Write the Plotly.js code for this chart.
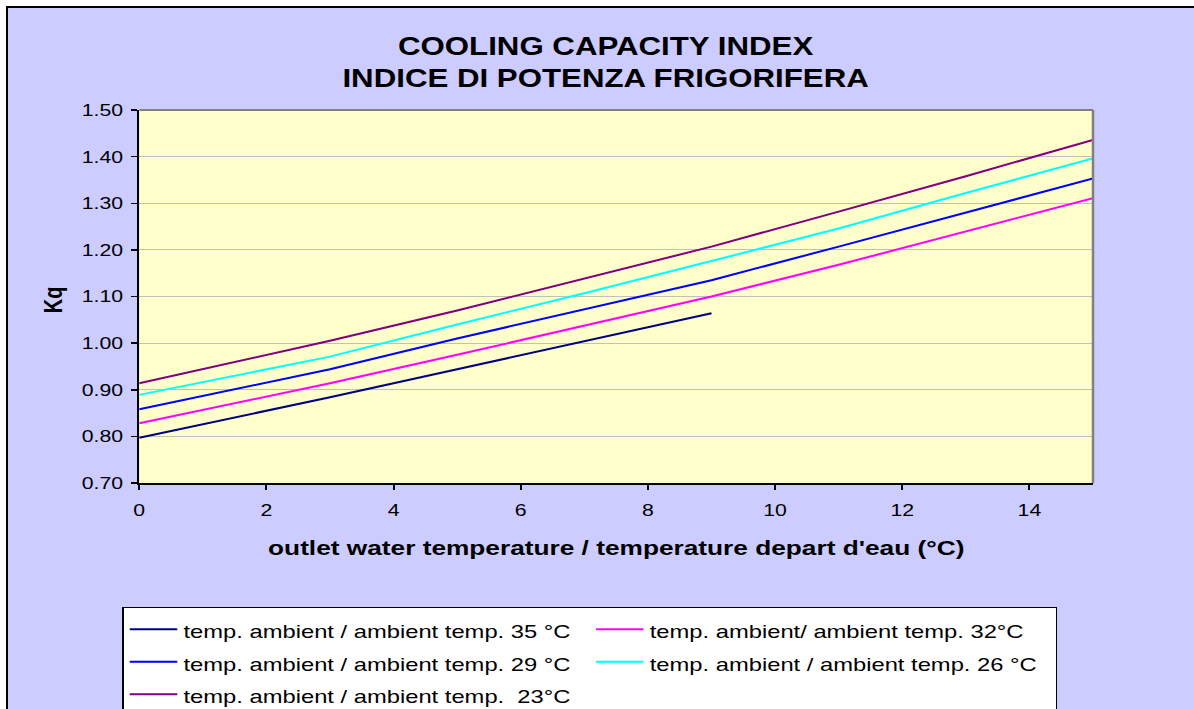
<!DOCTYPE html>
<html>
<head>
<meta charset="utf-8">
<script src="https://cdn.plot.ly/plotly-3.0.1.min.js"></script>
<style>
  html, body { margin:0; padding:0; background:#ffffff; overflow:hidden; width:1194px; height:709px; }
  #frame { position:absolute; left:6px; top:6px; width:1200px; height:760px; border-left:2px solid #000; border-top:2px solid #000; background:#CCCCFF; overflow:hidden; }
  #chart { position:absolute; left:0; top:0; width:960px; height:760px; transform:scale(1.25,1); transform-origin:0 0; }
</style>
</head>
<body>
<div id="frame"><div id="chart"></div></div>
<script>
// Data
const xOutlet = [0, 3, 5, 7, 9, 11, 13, 15];
const xOutlet35 = [0, 3, 5, 7, 9];
const kq35 = [0.797, 0.884, 0.944, 1.004, 1.064];
const kq32 = [0.828, 0.914, 0.975, 1.037, 1.100, 1.168, 1.240, 1.311];
const kq29 = [0.858, 0.944, 1.010, 1.072, 1.135, 1.207, 1.280, 1.353];
const kq26 = [0.889, 0.971, 1.040, 1.107, 1.176, 1.246, 1.322, 1.396];
const kq23 = [0.914, 1.005, 1.070, 1.138, 1.207, 1.282, 1.358, 1.436];
const seriesNames = [
  'temp. ambient / ambient temp. 35 °C',
  'temp. ambient/ ambient temp. 32°C',
  'temp. ambient / ambient temp. 29 °C',
  'temp. ambient / ambient temp. 26 °C',
  'temp. ambient / ambient temp.  23°C'
];
const seriesColors = ['#000080', '#FF00FF', '#0000FF', '#00FFFF', '#800080'];
const yTickVals = [0.7, 0.8, 0.9, 1.0, 1.1, 1.2, 1.3, 1.4, 1.5];
const yTickText = ['0.70','0.80','0.90','1.00','1.10','1.20','1.30','1.40','1.50'];

const xs = [xOutlet35, xOutlet, xOutlet, xOutlet, xOutlet];
const ys = [kq35, kq32, kq29, kq26, kq23];
const FONT = 'Liberation Sans, Arial, sans-serif';

const traces = ys.map((y, i) => ({
  type: 'scatter', mode: 'lines', x: xs[i], y: y,
  name: '<span style="font-size:19px">' + seriesNames[i] + '</span>',
  line: { color: seriesColors[i], width: 2 }
}));

const H = 760;
const layout = {
  width: 960, height: H,
  margin: { l: 104.8, r: 92, t: 102, b: H - 475 },
  paper_bgcolor: '#CCCCFF',
  plot_bgcolor: '#FFFFCC',
  font: { family: FONT, color: '#000000', size: 17 },
  title: {
    text: 'COOLING CAPACITY INDEX<br>INDICE DI POTENZA FRIGORIFERA',
    font: { family: FONT, size: 25, color: '#000000', weight: 'bold' },
    xref: 'container', x: 0.498, xanchor: 'center',
    yref: 'container', y: 1 - 47/H, yanchor: 'top'
  },
  xaxis: {
    range: [0, 15], dtick: 2, tick0: 0,
    showgrid: false, zeroline: false,
    showline: true, linecolor: '#000000', linewidth: 2,
    ticks: 'outside', ticklen: 5, tickwidth: 1.5, tickcolor: '#000000',
    ticklabelstandoff: 6,
    tickfont: { family: FONT, size: 17 },
    title: { text: '' }
  },
  yaxis: {
    range: [0.7, 1.5], tickvals: yTickVals, ticktext: yTickText,
    showgrid: true, gridcolor: '#C0C0C0', gridwidth: 1, zeroline: false,
    showline: true, linecolor: '#000000', linewidth: 1.5,
    ticks: 'outside', ticklen: 5, tickwidth: 1.5, tickcolor: '#000000',
    ticklabelstandoff: 3,
    tickfont: { family: FONT, size: 17 },
    title: { text: '' }
  },
  shapes: [
    { type: 'line', xref: 'paper', yref: 'paper', x0: 0, x1: 1, y0: 1, y1: 1, line: { color: '#808080', width: 2 } },
    { type: 'line', xref: 'paper', yref: 'paper', x0: 1, x1: 1, y0: 0, y1: 1, line: { color: '#808080', width: 2 } }
  ],
  annotations: [
    { text: 'outlet water temperature / temperature depart d\'eau (°C)', xref: 'paper', yref: 'paper',
      x: 0.5, y: -0.174, xanchor: 'center', yanchor: 'middle', showarrow: false,
      font: { family: FONT, size: 21, color: '#000000', weight: 'bold' } },
    { text: 'Kq', xref: 'paper', yref: 'paper', x: -0.09, y: 0.491, textangle: -90,
      xanchor: 'center', yanchor: 'middle', showarrow: false,
      font: { family: FONT, size: 20, color: '#000000', weight: 'bold' } }
  ],
  legend: {
    orientation: 'h', xref: 'paper', yref: 'paper',
    x: (91.2 - 104.8) / 763.2, xanchor: 'left',
    y: 1 - (599 - 102) / 373, yanchor: 'top',
    bgcolor: '#FFFFFF', bordercolor: '#000000', borderwidth: 1,
    font: { family: FONT, size: 22.7, color: '#000000' },
    itemwidth: 38,
    entrywidth: 320, entrywidthmode: 'pixels',
    traceorder: 'normal'
  },
  showlegend: true
};

Plotly.newPlot('chart', traces, layout, { staticPlot: true, displayModeBar: false });
</script>
</body>
</html>
